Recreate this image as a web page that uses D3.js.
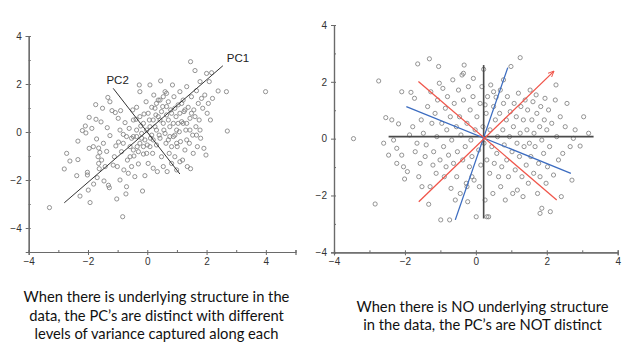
<!DOCTYPE html>
<html>
<head>
<meta charset="utf-8">
<script src="https://cdn.jsdelivr.net/npm/d3@7"></script>
<style>
  body { margin: 0; background: #fff; }
  svg { display: block; }
</style>
</head>
<body>
<svg id="chart" width="644" height="352"></svg>
<script>
// left panel: correlated cloud
let leftPoints = [
  [-3.30,-3.15],[-2.80,-1.54],[-2.72,-0.89],[-2.61,-1.21],[-2.38,-1.82],[-2.34,-0.38],[-2.34,-1.15],[-2.27,-2.67],
  [-2.19,0.06],[-2.09,0.25],[-2.07,-0.04],[-2.02,-1.68],[-2.02,-1.79],[-1.99,-2.42],[-1.96,0.61],[-1.96,-0.68],
  [-1.93,-2.94],[-1.87,0.15],[-1.82,-0.61],[-1.81,-2.17],[-1.74,1.14],[-1.73,0.53],[-1.71,-0.29],[-1.69,-1.90],
  [-1.66,-1.03],[-1.64,-0.67],[-1.64,-1.31],[-1.62,-1.53],[-1.60,-0.85],[-1.56,0.42],[-1.54,-1.17],[-1.51,0.99],
  [-1.48,-0.47],[-1.46,-2.04],[-1.42,-1.44],[-1.37,-0.81],[-1.35,0.18],[-1.33,1.44],[-1.31,-2.22],[-1.28,-2.32],
  [-1.26,-0.15],[-1.26,1.26],[-1.19,0.89],[-1.15,-1.38],[-1.11,-1.03],[-1.08,0.81],[-1.06,-0.58],[-1.03,-2.79],
  [-1.01,-1.44],[-0.98,0.57],[-0.97,-0.42],[-0.92,-2.00],[-0.90,0.89],[-0.87,-0.82],[-0.83,-3.53],[-0.81,-0.10],
  [-0.79,-1.58],[-0.75,0.39],[-0.72,-2.58],[-0.70,-2.28],[-0.67,-1.17],[-0.64,-1.72],[-0.61,0.15],[-0.58,-0.61],
  [-0.53,-1.44],[-0.49,0.92],[-0.47,-0.19],[-0.45,-1.00],[-0.42,-1.86],[-0.38,0.53],[-0.36,1.03],[-0.34,-0.61],
  [-0.30,-1.33],[-0.27,1.96],[-0.25,1.68],[-0.22,0.25],[-0.19,-0.26],[-0.16,-2.46],[-0.13,-0.92],[-0.11,0.75],
  [-0.08,-1.82],[-0.04,1.26],[-0.02,0.08],[0.00,-0.54],[0.03,-1.31],[0.07,0.50],[0.09,1.96],[0.11,-0.26],
  [0.15,1.03],[0.18,-0.89],[0.20,-1.51],[0.22,1.54],[0.26,0.22],[0.29,0.71],[0.31,-0.54],[0.34,-1.65],
  [0.37,1.33],[0.40,-0.13],[0.43,0.50],[0.45,2.13],[0.48,-1.03],[0.52,1.06],[0.54,-1.44],[0.56,0.08],
  [0.60,1.68],[0.63,-0.47],[0.65,0.71],[0.67,-1.65],[0.71,1.26],[0.74,-0.89],[0.76,0.22],[0.79,0.92],
  [0.82,-1.31],[0.85,1.96],[0.88,-0.19],[0.90,1.47],[0.93,-1.03],[0.97,0.64],[0.99,-1.58],[1.01,-0.61],
  [1.04,1.13],[1.08,0.01],[1.10,1.68],[1.12,-0.40],[1.16,0.43],[1.19,-1.17],[1.21,1.33],[1.24,0.85],
  [1.27,-0.75],[1.30,0.08],[1.33,1.89],[1.35,-1.44],[1.38,1.03],[1.42,-0.47],[1.44,0.57],[1.46,2.93],
  [1.49,1.47],[1.53,-0.13],[1.55,-0.89],[1.57,0.92],[1.61,2.56],[1.64,0.22],[1.66,1.72],[1.69,-0.61],
  [1.72,1.19],[1.75,0.50],[1.78,2.10],[1.80,-0.26],[1.83,1.40],[1.87,0.99],[1.91,-0.68],[1.94,1.54],
  [1.98,-0.96],[2.00,2.44],[2.02,0.78],[2.06,1.19],[2.09,2.10],[2.13,0.50],[2.17,2.47],[2.20,1.40],
  [2.39,1.71],[2.67,1.68],[2.70,0.04],[3.99,1.68],[1.46,-1.53],[1.10,-1.24],
  [-0.47,0.50],[-0.36,0.08],[-0.25,0.64],[-0.19,-0.06],[-0.13,0.36],[-0.08,-0.33],[0.03,0.78],[0.09,0.22],
  [0.15,-0.13],[0.20,0.50],[0.26,0.99],[0.31,0.08],[0.37,0.64],[0.43,-0.26],[0.48,0.85],[0.54,0.36],
  [0.60,-0.06],[0.65,1.06],[0.71,0.50],[0.76,-0.19],[0.82,0.78],[0.88,0.36],[0.93,0.99],[0.99,0.08],
  [1.10,0.78],[1.16,1.19],[1.21,0.36],[1.27,0.92],[0.31,1.19],[0.43,1.33],[0.54,1.47],[0.65,1.61],
  [0.20,-0.33],[0.09,-0.61],[-0.02,-0.89],[-0.13,-0.61],[-0.25,-0.47],[-0.36,-0.19],[-0.47,-0.75],[-0.58,-1.03],
  [-0.70,-0.19],[-0.81,-0.47],[-0.92,0.08],[-0.53,-0.26],[-0.30,-0.82],[0.71,-0.33],[0.82,-0.61],[0.93,-0.13],
  [1.04,0.36],[1.33,0.36],[1.44,0.08],[1.49,0.78],[1.61,0.64],[1.66,-0.13],[1.78,0.08],[1.33,-0.33],[0.99,-0.47]
];

// right panel: round cloud
let rightPoints = [
  [-3.45,0.00],[-2.84,-2.30],[-2.74,2.03],[-2.54,0.74],[-2.18,0.52],[-2.32,-0.05],[-2.23,-0.34],[-2.09,-0.58],
  [-2.04,-0.99],[-2.01,-1.42],[-1.93,-1.16],[-1.87,0.13],[-1.83,1.63],[-1.78,0.42],[-1.73,1.42],[-1.71,-0.46],
  [-1.66,-0.16],[-1.64,2.63],[-1.61,-1.34],[-1.57,-0.87],[-1.54,0.66],[-1.52,-1.69],[-1.48,0.19],[-1.43,-0.63],
  [-1.40,-0.22],[-1.36,1.13],[-1.33,-2.31],[-1.31,2.81],[-1.29,-1.69],[-1.27,1.65],[-1.24,0.54],[-1.21,-0.93],
  [-1.19,-0.46],[-1.15,0.89],[-1.12,-1.22],[-1.10,0.07],[-1.08,1.36],[-1.05,2.54],[-1.03,1.95],[-1.01,-0.75],
  [-0.99,-2.86],[-0.96,0.54],[-0.93,1.77],[-0.91,-0.28],[-0.89,-1.34],[-0.86,1.07],[-0.84,-0.99],[-0.82,0.31],
  [-0.80,1.48],[-0.77,-0.58],[-0.74,-2.86],[-0.72,0.77],[-0.70,-1.75],[-0.68,-0.05],[-0.65,2.07],[-0.63,-0.87],
  [-0.61,1.24],[-0.58,-2.16],[-0.55,0.42],[-0.54,-1.34],[-0.52,-0.46],[-0.49,1.71],[-0.46,0.77],[-0.44,-1.93],
  [-0.42,0.13],[-0.39,2.24],[-0.37,-0.75],[-0.35,1.36],[-0.33,2.59],[-0.30,-0.28],[-0.27,-1.57],[-0.25,0.54],
  [-0.23,-2.22],[-0.21,1.83],[-0.18,-0.99],[-0.16,1.01],[-0.14,-0.05],[-0.11,-0.63],[-0.08,1.48],[-0.07,2.12],
  [-0.05,-1.46],[-0.02,0.31],[0.01,-2.75],[0.03,0.77],[0.08,-0.40],[0.10,-1.69],[0.12,1.24],[0.14,-0.93],
  [0.17,1.83],[0.20,0.42],[0.22,2.44],[0.23,-0.16],[0.26,-2.16],[0.29,0.89],[0.31,-0.75],[0.33,1.48],
  [0.36,-2.75],[0.39,-1.22],[0.40,0.31],[0.42,1.89],[0.45,-0.28],[0.48,-1.93],[0.50,1.13],[0.52,-0.87],
  [0.55,0.66],[0.57,1.46],[0.59,-0.52],[0.61,0.07],[0.64,-1.34],[0.67,0.89],[0.69,1.71],[0.70,-1.69],
  [0.73,-0.99],[0.76,0.31],[0.78,1.24],[0.80,-0.22],[0.83,-2.16],[0.86,0.66],[0.87,-0.75],[0.89,1.48],
  [0.92,-1.34],[0.95,0.07],[0.97,0.95],[0.99,2.54],[1.02,-0.46],[1.04,-1.93],[1.06,0.42],[1.08,1.24],
  [1.11,-1.10],[1.14,0.77],[1.16,-0.16],[1.17,-1.81],[1.20,1.60],[1.23,-0.63],[1.25,0.19],[1.27,1.13],
  [1.30,-1.34],[1.33,-2.04],[1.34,0.66],[1.36,-0.28],[1.39,1.36],[1.42,-0.93],[1.44,0.31],[1.46,1.01],
  [1.48,-1.57],[1.51,-0.16],[1.53,1.71],[1.55,-0.63],[1.58,0.66],[1.61,1.30],[1.63,-1.22],[1.64,0.19],
  [1.67,-0.28],[1.70,1.54],[1.72,0.89],[1.74,-1.93],[1.77,-0.87],[1.80,0.42],[1.81,-1.34],[1.83,1.13],
  [1.86,-0.05],[1.91,-0.52],[1.93,0.66],[1.95,1.42],[1.98,-1.57],[2.00,0.31],[2.02,-0.99],[2.05,1.01],
  [2.08,-0.28],[2.10,-2.57],[2.14,0.54],[2.19,-1.28],[2.24,1.36],[2.26,1.89],[2.28,0.07],[2.33,-0.75],
  [2.38,0.77],[2.41,-2.04],[2.45,-0.52],[2.52,0.42],[2.57,1.24],[2.66,-0.28],[2.71,-1.46],[2.75,0.01],
  [2.80,0.31],[2.94,-0.26],[3.04,0.77],[3.18,0.19],[1.25,2.85],[0.78,2.07],[0.50,1.65],[-0.35,2.30],
  [-2.09,1.65],[-2.37,0.66],[-2.60,-0.16],[-2.46,-0.58],[-2.23,-0.87],[0.26,1.19],[-0.11,-1.34],[-0.25,-1.69],
  [0.31,-2.75],[1.81,-2.63],[1.86,-2.45]
];

// drawn direction lines: [x1, y1, x2, y2]
let leftLines = [[-2.80,-2.95,2.55,2.76],[-1.15,1.82,1.10,-1.75]];
let leftLabels = [["PC1",3.06,3.10],["PC2",-1.00,2.17]];
let rightLines = [
  [-2.46,0.07,3.32,0.07],[0.22,2.59,0.22,-2.81],
  [-0.58,-2.86,0.90,2.50],[-1.96,1.13,2.68,-1.22],
  [-1.62,2.01,2.28,-2.16],[-1.61,-2.22,2.19,2.36]
];
let rightLineColors = ["#4a4a4a","#4a4a4a","#3c6cc0","#3c6cc0","#f0554a","#f0554a"];

let leftXTicks = [-4,-2,0,2,4];
let leftYTicks = [-4,-2,0,2,4];
let rightXTicks = [-4,-2,0,2,4];
let rightYTicks = [-4,-2,0,2,4];

let leftCaption = ["When there is underlying structure in the",
                   "data, the PC\u2019s are distinct with different",
                   "levels of variance captured along each"];
let rightCaption = ["When there is NO underlying structure",
                    "in the data, the PC\u2019s are NOT distinct"];

let svg = d3.select("#chart");

svg.append("defs").append("marker")
    .attr("id", "arrow")
    .attr("viewBox", "0 0 10 10")
    .attr("refX", 8).attr("refY", 5)
    .attr("markerWidth", 5).attr("markerHeight", 5)
    .attr("orient", "auto")
  .append("path")
    .attr("d", "M0,1 L9,5 L0,9")
    .attr("fill", "none")
    .attr("stroke", "#f0554a")
    .attr("stroke-width", 1.5);

function drawAxes(g, x, y, xTicks, yTicks) {
    let xa = g.append("g")
        .attr("transform", `translate(0, ${y.range()[0]})`)
        .call(d3.axisBottom(x).tickValues(xTicks).tickSize(3).tickPadding(3).tickFormat(d3.format("d")));
    let ya = g.append("g")
        .attr("transform", `translate(${x.range()[0]}, 0)`)
        .call(d3.axisLeft(y).tickValues(yTicks).tickSize(3).tickPadding(4).tickFormat(d3.format("d")));
    // minor ticks, every unit, inside
    let xd = x.domain(), yd = y.domain();
    g.append("g")
        .attr("transform", `translate(0, ${y.range()[0]})`)
        .call(d3.axisBottom(x).tickValues(d3.range(xd[0], xd[1] + 1)).tickSize(-2).tickFormat(""));
    g.append("g")
        .attr("transform", `translate(${x.range()[0]}, 0)`)
        .call(d3.axisLeft(y).tickValues(d3.range(yd[0], yd[1] + 1)).tickSize(-2).tickFormat(""));
    g.selectAll(".domain").attr("stroke", "#6a6a6a").attr("stroke-width", 1.2);
    g.selectAll(".tick line").attr("stroke", "#6a6a6a");
    g.selectAll(".tick text")
        .attr("fill", "#333")
        .style("font-family", "Liberation Sans, Arial, sans-serif")
        .style("font-size", "10px");
}

function drawPoints(g, data, x, y) {
    g.append("g").selectAll("circle")
        .data(data)
        .enter()
        .append("circle")
        .attr("cx", d => x(d[0]))
        .attr("cy", d => y(d[1]))
        .attr("r", 2.1)
        .attr("fill", "none")
        .attr("stroke", "#7a7a7a")
        .attr("stroke-width", 0.8);
}

// ---- left panel
let xL = d3.scaleLinear().domain([-4, 5]).range([28.7, 295.5]);
let yL = d3.scaleLinear().domain([-5, 4]).range([252, 36]);
let gL = svg.append("g");
drawAxes(gL, xL, yL, leftXTicks, leftYTicks);
drawPoints(gL, leftPoints, xL, yL);
gL.selectAll("line.pc")
    .data(leftLines)
    .enter()
    .append("line")
    .attr("class", "pc")
    .attr("x1", d => xL(d[0])).attr("y1", d => yL(d[1]))
    .attr("x2", d => xL(d[2])).attr("y2", d => yL(d[3]))
    .attr("stroke", "#333")
    .attr("stroke-width", 1);
gL.selectAll("text.pc")
    .data(leftLabels)
    .enter()
    .append("text")
    .attr("class", "pc")
    .attr("x", d => xL(d[1]))
    .attr("y", d => yL(d[2]))
    .attr("dy", "0.35em")
    .attr("text-anchor", "middle")
    .style("font-family", "Liberation Sans, Arial, sans-serif")
    .style("font-size", "11.5px")
    .attr("fill", "#222")
    .text(d => d[0]);

// ---- right panel
let xR = d3.scaleLinear().domain([-4, 4]).range([334, 617.7]);
let yR = d3.scaleLinear().domain([-4, 4]).range([252.3, 25]);
let gR = svg.append("g");
drawAxes(gR, xR, yR, rightXTicks, rightYTicks);
drawPoints(gR, rightPoints, xR, yR);
gR.selectAll("line.dir")
    .data(rightLines)
    .enter()
    .append("line")
    .attr("class", "dir")
    .attr("x1", d => xR(d[0])).attr("y1", d => yR(d[1]))
    .attr("x2", d => xR(d[2])).attr("y2", d => yR(d[3]))
    .attr("stroke", (d, i) => rightLineColors[i])
    .attr("stroke-width", (d, i) => i < 2 ? 1.6 : 1.3)
    .attr("marker-end", (d, i) => i == 5 ? "url(#arrow)" : null);

// ---- captions
function caption(lines, cx, y0) {
    let t = svg.append("text")
        .attr("text-anchor", "middle")
        .style("font-family", "Lato, 'Open Sans', sans-serif")
        .style("font-size", "16px")
        .attr("fill", "#111");
    lines.forEach(function(s, i) {
        t.append("tspan").attr("x", cx).attr("y", y0 + i * 18.5).text(s);
    });
    return t;
}
let capL = caption(leftCaption, 156.5, 302);
let capR = caption(rightCaption, 482.5, 311.5);

// fit the caption size to the width of the first left line (~266px)
let w = capL.select("tspan").node().getComputedTextLength();
let fs = 16 * 266 / w;
capL.style("font-size", fs + "px");
capR.style("font-size", fs + "px");
</script>
</body>
</html>
